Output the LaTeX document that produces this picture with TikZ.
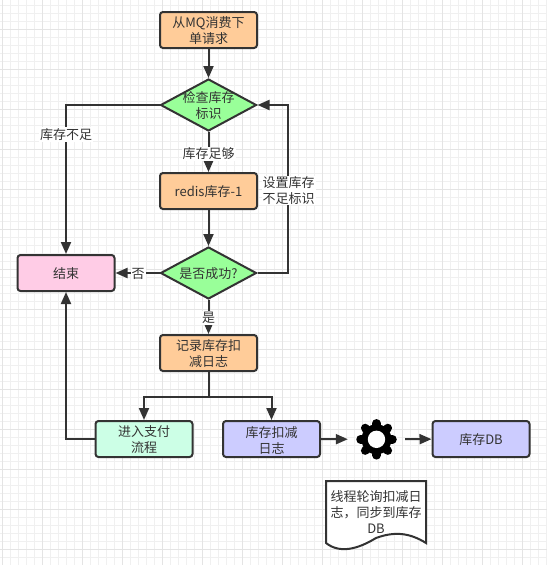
\documentclass[tikz,border=0pt]{standalone}
\usepackage{fontspec}
\setmainfont{Noto Sans CJK SC}
\usetikzlibrary{arrows.meta,shapes.geometric}
\definecolor{ink}{HTML}{333333}
\definecolor{gridminor}{HTML}{F0F0F0}
\definecolor{gridmajor}{HTML}{E4E4E4}
\tikzset{
  txt/.style={font=\fontsize{13}{16}\selectfont,text=ink,align=center},
  proc/.style={draw=ink,line width=2pt,rounded corners=3pt,minimum width=97pt,minimum height=36pt,inner sep=0pt,
     label={[txt,inner sep=0pt,yshift=-1pt]center:#1}},
  dia/.style={draw=ink,line width=2pt,diamond,minimum width=96pt,minimum height=52pt,inner sep=0pt,fill=greenfill,
     label={[txt,inner sep=0pt,yshift=-0.5pt]center:#1}},
  conn/.style={draw=ink,line width=2pt,-{Triangle[length=12pt,width=10pt]}},
  plain/.style={draw=ink,line width=2pt},
  lab/.style={txt,fill=white,inner sep=1pt},
  orange/.style={proc={#1},fill=orangefill},
}
\definecolor{orangefill}{HTML}{FFCC99}
\definecolor{greenfill}{HTML}{99FF99}
\definecolor{pinkfill}{HTML}{FFCCE6}
\definecolor{mintfill}{HTML}{CCFFE6}
\definecolor{bluefill}{HTML}{CCCCFF}
\begin{document}
\begin{tikzpicture}[x=1pt,y=-1pt]
\useasboundingbox (0,0) rectangle (547,565);
\fill[white] (0,0) rectangle (547,565);
% grid
\foreach \k in {0,...,68}{\draw[gridminor,line width=1pt] ({2.5+8*\k},0) -- ({2.5+8*\k},565);}
\foreach \k in {0,...,70}{\draw[gridminor,line width=1pt] (0,{5.5+8*\k}) -- (547,{5.5+8*\k});}
\foreach \k in {0,...,13}{\draw[gridmajor,line width=1pt] ({2.5+40*\k},0) -- ({2.5+40*\k},565);}
\foreach \k in {0,...,14}{\draw[gridmajor,line width=1pt] (0,{-10.5+40*\k}) -- (547,{-10.5+40*\k});}
% nodes
\node[orange={从MQ消费下\\单请求}] (start) at (208.5,30) {};
\node[dia={检查库存\\标识}] (check) at (208.5,105) {};
\node[orange={redis库存-1}] (redis) at (208.5,191) {};
\node[dia={是否成功?}] (ok) at (208.5,273) {};
\node[proc={结束},fill=pinkfill] (end) at (66,273) {};
\node[orange={记录库存扣\\减日志}] (log) at (208.5,353) {};
\node[proc={进入支付\\流程},fill=mintfill] (pay) at (144,439) {};
\node[proc={库存扣减\\日志},fill=bluefill] (stock) at (271.5,439) {};
\node[proc={库存DB},fill=bluefill] (db) at (481,439) {};
\node[circle,minimum size=57pt,inner sep=0pt] (gear) at (376.5,439.3) {};
% gear
\begin{scope}[shift={(gear.center)}]
  \fill[black] (0,0) circle (15);
  \foreach \a in {0,45,...,315}{
    \draw[black,line width=8.5pt,line cap=round] (\a:12) -- (\a:16);
  }
  \fill[white] (0,0) circle (8.7);
\end{scope}
% document
\coordinate (docnw) at (326,481);
\coordinate (docne) at (426,481);
\coordinate (docse) at (426,543);
\coordinate (docsw) at (326,543);
\draw[ink,line width=2pt,fill=white,line join=miter]
  (docnw) -- (docne) -- (docse)
  .. controls (410,533) and (395,531) .. (376,538)
  .. controls (358,549) and (340,554) .. (docsw) -- cycle;
\node[txt] (doc) at (376,512) {线程轮询扣减日\\志，同步到库存\\DB};
% connectors
\draw[conn] (start) -- (check);
\draw[conn] (check) -- (redis) node[lab,pos=0.54] (lb1) {库存足够};
\draw[conn] (redis) -- (ok);
\draw[conn] (check.west) -- (66,105) -- (end.north);
\node[lab] (lb2) at (66,134.5) {库存不足};
\draw[conn] (ok.east) -- (288,273) -- (288,105) -- (check.east);
\node[lab] (lb3) at (288.5,190.5) {设置库存\\不足标识};
\draw[conn] (ok.west) -- (end.east);
\node[lab] (lb4) at (138,273.5) {否};
\draw[conn] (ok) -- (log);
\node[lab] (lb5) at (208.5,318) {是};
\coordinate (split) at (208.5,397);
\draw[plain] (log) -- (split);
\draw[conn] (split) -- (144,397) -- (pay.north);
\draw[conn] (split) -- (271.5,397) -- (stock.north);
\draw[conn] (pay.west) -- (66,439) -- (end.south);
\draw[conn] (stock) -- (gear);
\draw[conn] (gear) -- (db);
\end{tikzpicture}
\end{document}
